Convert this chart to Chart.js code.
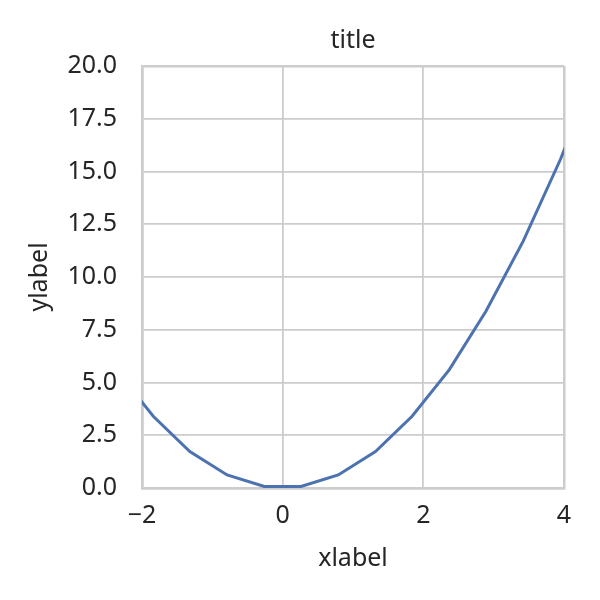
<!DOCTYPE html>
<html>
<head>
<meta charset="utf-8">
<script src="https://cdn.jsdelivr.net/npm/chart.js@4"></script>
<style>
  html, body { margin: 0; padding: 0; background: #fff; }
  #wrap { width: 600px; height: 600px; }
</style>
</head>
<body>
<div id="wrap"><canvas id="c" width="600" height="600"></canvas></div>
<script>
// values (curve continues past the plot edges and gets clipped)
const xValues = [-2.37, -1.84, -1.32, -0.79, -0.26, 0.26, 0.79, 1.32, 1.84, 2.37, 2.89, 3.42, 3.95, 4.47];
const yValues = [5.61, 3.40, 1.73, 0.62, 0.07, 0.07, 0.62, 1.73, 3.40, 5.61, 8.38, 11.70, 15.58, 20.0];
const xTicks = [-2, 0, 2, 4];
const yTicks = [0, 2.5, 5, 7.5, 10, 12.5, 15, 17.5, 20];

const FONT = '"Noto Sans", sans-serif';
const FS = 25;
const TEXT = '#262626';
const GRID = '#cccccc';

Chart.defaults.font.family = FONT;
Chart.defaults.color = TEXT;

const points = xValues.map((x, i) => ({ x: x, y: yValues[i] }));

function edgeWidth(ctx, n) {
  return (ctx.index === 0 || ctx.index === n - 1) ? 2.5 : 1.8;
}

new Chart(document.getElementById('c'), {
  type: 'line',
  data: {
    datasets: [{
      data: points,
      borderColor: '#4c72b0',
      borderWidth: 3,
      pointRadius: 0,
      tension: 0,
      fill: false
    }]
  },
  options: {
    responsive: false,
    animation: false,
    devicePixelRatio: 1,
    layout: { padding: { left: 0, right: 36, top: 0, bottom: 0 } },
    plugins: {
      legend: { display: false },
      tooltip: { enabled: false },
      title: { display: false }
    },
    scales: {
      // top axis only carries the plot title so it centres over the plot area
      top: {
        type: 'linear',
        position: 'top',
        min: xTicks[0],
        max: xTicks[xTicks.length - 1],
        afterFit: s => { s.height = 66; },
        ticks: { display: false },
        grid: { display: false, drawTicks: false },
        border: { display: false },
        title: {
          display: true,
          text: 'title',
          color: TEXT,
          font: { size: FS, lineHeight: 1.2 },
          padding: { top: 26, bottom: 0 }
        }
      },
      x: {
        type: 'linear',
        min: xTicks[0],
        max: xTicks[xTicks.length - 1],
        afterBuildTicks: s => { s.ticks = xTicks.map(v => ({ value: v })); },
        afterFit: s => { s.height = 112; },
        ticks: {
          font: { size: FS },
          color: TEXT,
          padding: 13,
          maxRotation: 0,
          callback: v => v < 0 ? '\u2212' + Math.abs(v) : String(v)
        },
        grid: {
          color: GRID,
          drawTicks: false,
          lineWidth: ctx => edgeWidth(ctx, xTicks.length)
        },
        border: { color: GRID, width: 2.5 },
        title: {
          display: true,
          text: 'xlabel',
          color: TEXT,
          font: { size: FS, lineHeight: 1.2 },
          padding: { top: 0, bottom: 26 }
        }
      },
      y: {
        type: 'linear',
        min: yTicks[0],
        max: yTicks[yTicks.length - 1],
        afterBuildTicks: s => { s.ticks = yTicks.map(v => ({ value: v })); },
        afterFit: s => { s.width = 142; },
        ticks: {
          font: { size: FS },
          color: TEXT,
          padding: 25,
          callback: v => v.toFixed(1)
        },
        grid: {
          color: GRID,
          drawTicks: false,
          lineWidth: ctx => edgeWidth(ctx, yTicks.length)
        },
        border: { color: GRID, width: 2.5 },
        title: {
          display: true,
          text: 'ylabel',
          color: TEXT,
          font: { size: FS, lineHeight: 1.2 },
          padding: { top: 25, bottom: 0 }
        }
      }
    }
  }
});
</script>
</body>
</html>
